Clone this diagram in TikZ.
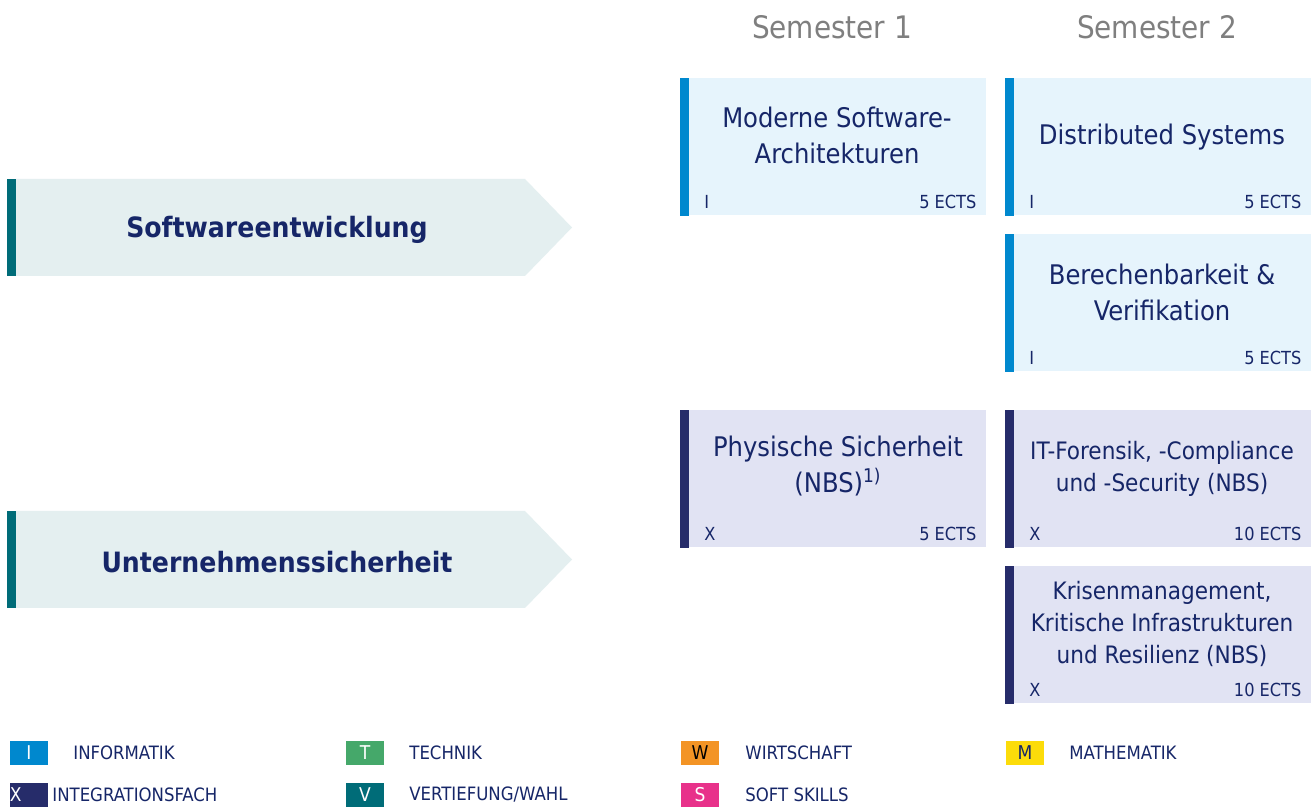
\documentclass[tikz,border=0pt]{standalone}
\usepackage{fontspec}
\setmainfont{DejaVu Sans Condensed}
\usetikzlibrary{positioning}
\definecolor{navytext}{RGB}{22,38,104}
\definecolor{headgray}{RGB}{127,127,127}
\definecolor{infblue}{RGB}{0,136,206}
\definecolor{infback}{RGB}{230,244,252}
\definecolor{intnavy}{RGB}{38,44,106}
\definecolor{intback}{RGB}{225,227,243}
\definecolor{trackteal}{RGB}{0,108,120}
\definecolor{trackback}{RGB}{228,239,240}
\definecolor{techgreen}{RGB}{69,168,106}
\definecolor{wirtorange}{RGB}{243,148,37}
\definecolor{mathyellow}{RGB}{252,220,10}
\definecolor{softpink}{RGB}{232,49,138}
\tikzset{
	course/.style={rectangle,inner sep=0pt,minimum width=153pt,minimum height=68.5pt,anchor=north west},
	infcourse/.style={course,fill=infback},
	intcourse/.style={course,fill=intback},
	coursetitle/.style={align=center,text=navytext,font=\fontsize{13.5}{18}\selectfont},
	smalltitle/.style={align=center,text=navytext,font=\fontsize{12}{16}\selectfont},
	coursecode/.style={anchor=west,inner sep=0pt,text=navytext,font=\fontsize{9}{10}\selectfont},
	coursects/.style={anchor=east,inner sep=0pt,text=navytext,font=\fontsize{9}{10}\selectfont},
	semhead/.style={text=headgray,font=\fontsize{15.5}{18}\selectfont},
	tracktext/.style={text=navytext,font=\bfseries\fontsize{14}{16}\selectfont},
	legbox/.style={rectangle,inner sep=0pt,minimum width=19pt,minimum height=12pt,text=white,font=\fontsize{9.5}{10}\selectfont},
	legtext/.style={anchor=west,inner sep=0pt,text=navytext,font=\fontsize{9.2}{10}\selectfont}
}
\begin{document}
\begin{tikzpicture}[line cap=round,line join=round,x=0.5pt,y=-0.5pt]
				\useasboundingbox[fill=white] (0,0) rectangle (1313,807);
				% semester heads
				\node[semhead] (sem1) at (832,27) {Semester 1};
				\node[semhead] (sem2) at (1157,27) {Semester 2};
				% tracks
				\fill[trackback] (16,179) -- (525,179) -- (572,227.5) -- (525,276) -- (16,276) -- cycle;
				\fill[trackteal] (7,179) rectangle (16,276);
				\node[tracktext] (swe) at (277,230) {Softwareentwicklung};
				\fill[trackback] (16,511) -- (525,511) -- (572,559.5) -- (525,608) -- (16,608) -- cycle;
				\fill[trackteal] (7,511) rectangle (16,608);
				\node[tracktext] (usi) at (277,562) {Unternehmenssicherheit};
				% courses
				\node[infcourse] (msa) at (680,78) {};
				\fill[infblue] (msa.north west) rectangle ([xshift=4.5pt]msa.south west);
				\node[coursetitle] (msa-t) at (837,135) {Moderne Software-\\Architekturen};
				\node[coursecode] (msa-c) at ([shift={(12pt,7pt)}]msa.south west) {I};
				\node[coursects] (msa-e) at ([shift={(-5pt,7pt)}]msa.south east) {5 ECTS};
				\node[infcourse] (ds) at (1005,78) {};
				\fill[infblue] (ds.north west) rectangle ([xshift=4.5pt]ds.south west);
				\node[coursetitle] (ds-t) at (1162,137) {Distributed Systems};
				\node[coursecode] (ds-c) at ([shift={(12pt,7pt)}]ds.south west) {I};
				\node[coursects] (ds-e) at ([shift={(-5pt,7pt)}]ds.south east) {5 ECTS};
				\node[infcourse] (bv) at (1005,234) {};
				\fill[infblue] (bv.north west) rectangle ([xshift=4.5pt]bv.south west);
				\node[coursetitle] (bv-t) at (1162,292) {Berechenbarkeit \&\\Verifikation};
				\node[coursecode] (bv-c) at ([shift={(12pt,7pt)}]bv.south west) {I};
				\node[coursects] (bv-e) at ([shift={(-5pt,7pt)}]bv.south east) {5 ECTS};
				\node[intcourse] (ps) at (680,410) {};
				\fill[intnavy] (ps.north west) rectangle ([xshift=4.5pt]ps.south west);
				\node[coursetitle] (ps-t) at (838,466) {Physische Sicherheit\\(NBS)\textsuperscript{1)}};
				\node[coursecode] (ps-c) at ([shift={(12pt,7pt)}]ps.south west) {X};
				\node[coursects] (ps-e) at ([shift={(-5pt,7pt)}]ps.south east) {5 ECTS};
				\node[intcourse] (itf) at (1005,410) {};
				\fill[intnavy] (itf.north west) rectangle ([xshift=4.5pt]itf.south west);
				\node[smalltitle] (itf-t) at (1162,469) {IT-Forensik, -Compliance\\und -Security (NBS)};
				\node[coursecode] (itf-c) at ([shift={(12pt,7pt)}]itf.south west) {X};
				\node[coursects] (itf-e) at ([shift={(-5pt,7pt)}]itf.south east) {10 ECTS};
				\node[intcourse] (krm) at (1005,566) {};
				\fill[intnavy] (krm.north west) rectangle ([xshift=4.5pt]krm.south west);
				\node[smalltitle] (krm-t) at (1162,624) {Krisenmanagement,\\Kritische Infrastrukturen\\und Resilienz (NBS)};
				\node[coursecode] (krm-c) at ([shift={(12pt,7pt)}]krm.south west) {X};
				\node[coursects] (krm-e) at ([shift={(-5pt,7pt)}]krm.south east) {10 ECTS};
				% legend
				\node[legbox,fill=infblue] (leg-i) at (29,753) {I};
				\node[legtext] (leg-i-t) at (73,753) {INFORMATIK};
				\node[legbox,fill=techgreen] (leg-t) at (365,753) {T};
				\node[legtext] (leg-t-t) at (409,753) {TECHNIK};
				\node[legbox,fill=wirtorange,text=black] (leg-w) at (700,753) {W};
				\node[legtext] (leg-w-t) at (745,753) {WIRTSCHAFT};
				\node[legbox,fill=mathyellow,text=navytext] (leg-m) at (1025,753) {M};
				\node[legtext] (leg-m-t) at (1069,753) {MATHEMATIK};
				\node[legbox,fill=intnavy,text=white,align=left,text width=19pt] (leg-x) at (29,795) {X};
				\node[legtext] (leg-x-t) at (52,795) {INTEGRATIONSFACH};
				\node[legbox,fill=trackteal] (leg-v) at (365,795) {V};
				\node[legtext] (leg-v-t) at (409,795) {VERTIEFUNG/WAHL};
				\node[legbox,fill=softpink] (leg-s) at (700,795) {S};
				\node[legtext] (leg-s-t) at (745,795) {SOFT SKILLS};
			\end{tikzpicture}
\end{document}
